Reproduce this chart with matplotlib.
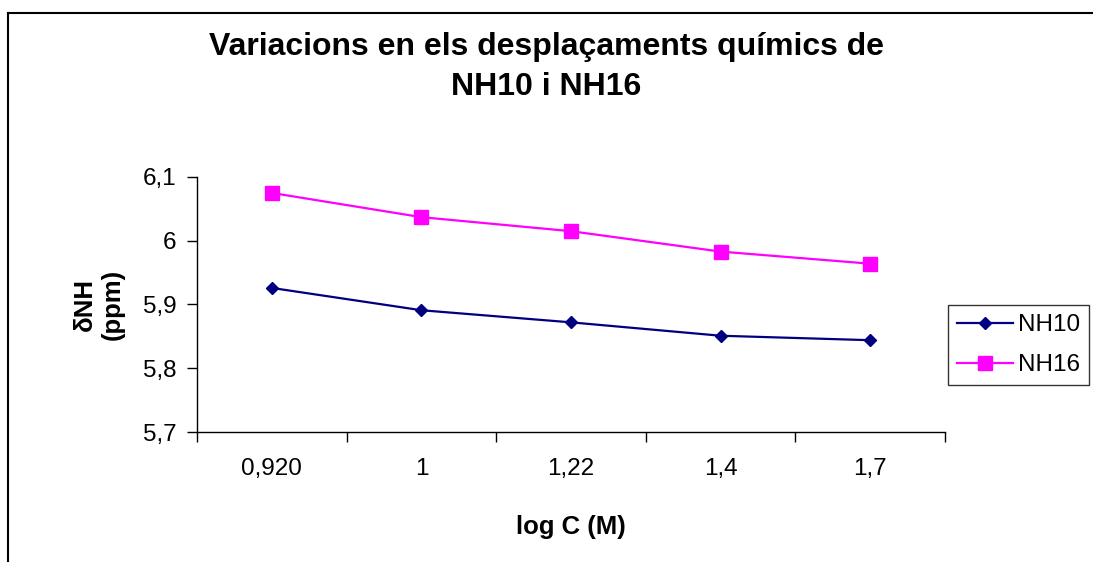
import matplotlib.pyplot as plt
import numpy as np
from matplotlib.lines import Line2D

plt.rcParams['font.family'] = ['Liberation Sans', 'DejaVu Sans']
plt.rcParams['font.size'] = 17.5

# data
categories = ['0,920', '1', '1,22', '1,4', '1,7']
nh10 = [5.926, 5.891, 5.872, 5.851, 5.844]
nh16 = [6.075, 6.037, 6.015, 5.983, 5.964]
y_ticks = [5.7, 5.8, 5.9, 6.0, 6.1]
y_labels = ['5,7', '5,8', '5,9', '6', '6,1']

fig = plt.figure(figsize=(10.93, 5.62), dpi=100)
ax = fig.add_axes([197 / 1093, 1 - 432 / 562, (945 - 197) / 1093, (432 - 177) / 562])

x = np.arange(len(categories))
ax.plot(x, nh10, color='#000080', lw=1.6, marker='D', ms=6.5, label='NH10')
ax.plot(x, nh16, color='#FF00FF', lw=1.6, marker='s', ms=9.6, label='NH16')

ax.set_xlim(-0.5, len(categories) - 0.5)
ax.set_ylim(5.7, 6.1)
ax.set_yticks(y_ticks, y_labels)
# category boundaries as major ticks, labels on minor ticks
ax.set_xticks(np.arange(-0.5, len(categories)), [''] * (len(categories) + 1))
ax.set_xticks(x, categories, minor=True)
ax.tick_params(axis='x', which='major', direction='out', length=7, width=1)
ax.tick_params(axis='x', which='minor', length=0, pad=19)
ax.tick_params(axis='y', direction='out', length=7, width=1, pad=8)

for s in ['top', 'right']:
    ax.spines[s].set_visible(False)
for s in ['left', 'bottom']:
    ax.spines[s].set_linewidth(1)

ax.set_xlabel('log C (M)', fontsize=18.5, fontweight='bold', labelpad=25)
ax.set_ylabel('δNH\n(ppm)', fontsize=18.5, fontweight='bold', labelpad=13, linespacing=1.2)

fig.text(0.5, 1 - 67 / 562, 'Variacions en els desplaçaments químics de\nNH10 i NH16',
         ha='center', va='center', fontsize=23, fontweight='bold', linespacing=1.43)

leg = fig.legend(loc='upper left', bbox_to_anchor=(948 / 1093, 1 - 305 / 562),
                 frameon=True, fancybox=False, edgecolor='black', handlelength=2.3,
                 borderpad=0.37, labelspacing=0.75, handletextpad=0.2, borderaxespad=0)
leg.get_frame().set_linewidth(1)

# outer chart border (left and top edges)
fig.add_artist(Line2D([8 / 1093, 8 / 1093], [0, 1 - 13 / 562], color='black', lw=1.5,
                      transform=fig.transFigure))
fig.add_artist(Line2D([8 / 1093, 1], [1 - 13 / 562, 1 - 13 / 562], color='black', lw=1.5,
                      transform=fig.transFigure))

fig.savefig('out.png', dpi=100)
